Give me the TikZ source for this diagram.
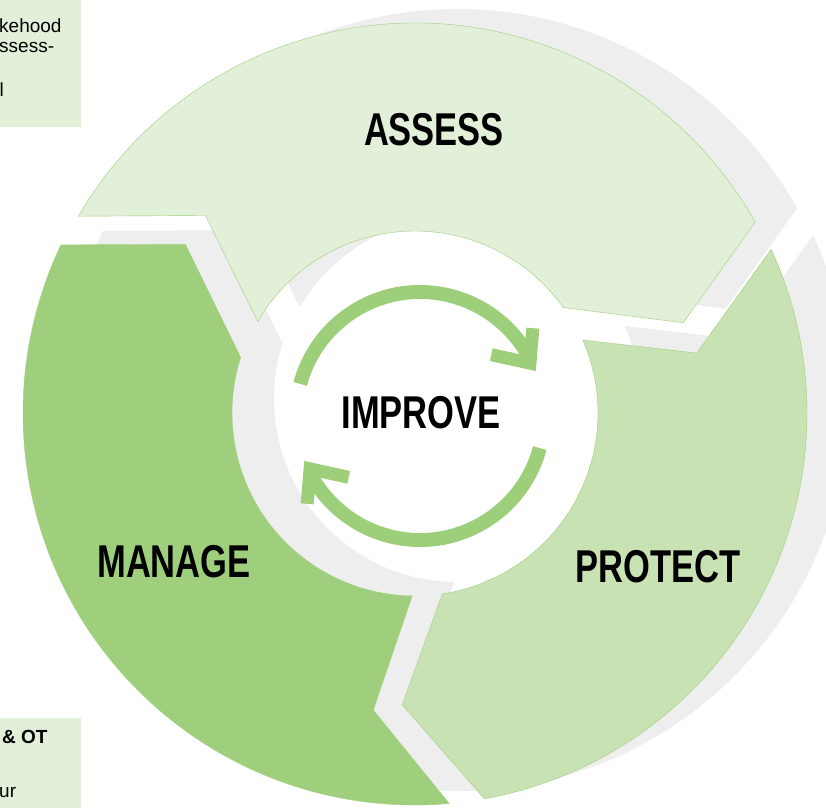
\documentclass[tikz,border=0pt]{standalone}
\usepackage{fontspec}
\setmainfont{Liberation Sans}
\newfontfamily\stagefont[FakeStretch=0.75]{Liberation Sans}
\usepackage{tikz}
\usetikzlibrary{arrows.meta}

\definecolor{lightgreen}{HTML}{E2F0D9}
\definecolor{midgreen}{HTML}{C9E2B4}
\definecolor{darkgreen}{HTML}{9FCF7C}
\definecolor{edgegreen}{HTML}{9DCE7A}
\definecolor{shadowgray}{HTML}{EEEEEE}

\newcommand{\assesspath}{(149.7:390) arc[start angle=149.7, end angle=29.3, radius=390] -- (18.6:283) -- (35.4:182) arc[start angle=35.4, end angle=149.8, radius=182] -- (136.7:288) -- cycle}
\newcommand{\protectpath}{(24.7:392) -- (12:288) -- (23.5:183) arc[start angle=23.5, end angle=-81.4, radius=183] -- (-92.5:292) -- (-79.8:392) arc[start angle=-79.8, end angle=24.7, radius=392] -- cycle}
\newcommand{\managepath}{(275:392) arc[start angle=275, end angle=154.6, radius=392] -- (143.7:285) -- (162.3:183) arc[start angle=162.3, end angle=269.1, radius=183] -- (262:300) -- cycle}

\tikzset{
  stage/.style={font=\stagefont\bfseries\fontsize{46}{50}\selectfont},
  note/.style={anchor=base west, inner sep=0pt, font=\fontsize{19}{22}\selectfont},
  cyclearrow/.style={draw=edgegreen, line width=14pt},
}

\begin{document}
\begin{tikzpicture}[x=1pt, y=1pt]
\clip (0,0) rectangle (826,808);
\coordinate (c) at (415,395);
\coordinate (m) at (420,392);

% side notes
\fill[lightgreen] (0,681) rectangle (80.5,808);
\fill[lightgreen] (0,0) rectangle (80.5,90);
\node[note] (note1) at (-1,775) {kehood};
\node[note] (note2) at (-1,755) {ssess-};
\node[note] (note3) at (-0.5,711) {l};
\node[note, font=\bfseries\fontsize{19}{22}\selectfont] (note4) at (2,65) {\& OT};
\node[note] (note5) at (-1,11) {ur};

\begin{scope}[shift={(c)}]
    \begin{scope}[shift={(42,14)}]
        \fill[shadowgray] \assesspath;
        \fill[shadowgray] \protectpath;
        \fill[shadowgray] \managepath;
    \end{scope}
    \filldraw[fill=darkgreen, draw=darkgreen] \managepath;
    \filldraw[fill=midgreen, draw=edgegreen] \protectpath;
    \filldraw[fill=lightgreen, draw=edgegreen] \assesspath;
\end{scope}

\foreach \r in {0,180}{
    \begin{scope}[shift={(m)}, rotate=\r]
        \draw[cyclearrow] (165:124) arc[start angle=165, end angle=28, radius=124];
        \draw[cyclearrow, line width=13pt] (37.9:143) -- (25.7:122) -- (40.7:94);
    \end{scope}
}

\node[stage] (assess) at (434,678) {ASSESS};
\node[stage] (improve) at (421,395) {IMPROVE};
\node[stage] (manage) at (174,246) {MANAGE};
\node[stage] (protect) at (658,241) {PROTECT};
\end{tikzpicture}
\end{document}
